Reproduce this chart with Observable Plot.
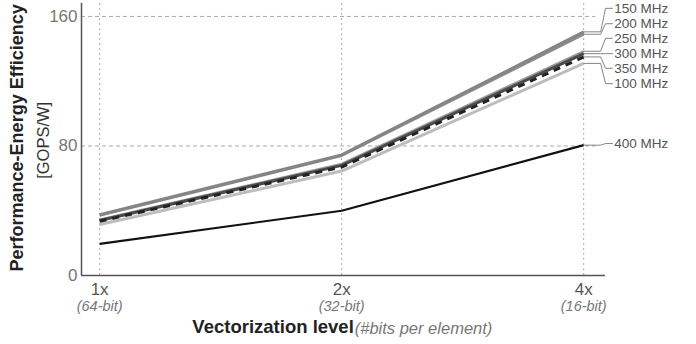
<!DOCTYPE html>
<html><head><meta charset="utf-8">
<script src="https://cdn.jsdelivr.net/npm/d3@7"></script>
<script src="https://cdn.jsdelivr.net/npm/@observablehq/plot@0.6"></script>
<style>body{margin:0;background:#fff}</style>
</head><body><div id="chart"></div>
<script>
const levels = ["1x", "2x", "4x"];
const bitLabels = ["(64-bit)", "(32-bit)", "(16-bit)"];
const yTicks = [0, 80, 160];
const freqs = ["100 MHz", "250 MHz", "200 MHz", "150 MHz", "300 MHz", "350 MHz", "400 MHz"];
const eff100 = [31.5, 64.5, 131];
const eff250 = [34.5, 69, 138.5];
const eff200 = [37, 74, 149];
const eff150 = [37.5, 74.5, 150.5];
const eff300 = [34, 68, 137];
const eff350 = [33.5, 67, 135];
const eff400 = [19.5, 40, 80.5];
const values = [eff100, eff250, eff200, eff150, eff300, eff350, eff400];
// label heights (in GOPS/W units) for the right-side legend
const labelY = [118.5, 146.5, 155.5, 165, 137, 128, 81.5];

const styles = {
  "100 MHz": {stroke: "#bdbdbd", w: 3},
  "250 MHz": {stroke: "#9a9a9a", w: 2.2},
  "200 MHz": {stroke: "#8c8c8c", w: 2.5},
  "150 MHz": {stroke: "#858585", w: 3},
  "300 MHz": {stroke: "#4a4a4a", w: 3},
  "350 MHz": {stroke: "#222", w: 3, dash: "7,6"},
  "400 MHz": {stroke: "#111", w: 2.2}
};

const rows = [];
freqs.forEach((f, k) => values[k].forEach((v, i) => rows.push({f, x: i, y: v})));

const leaders = [];
freqs.forEach((f, k) => {
  const end = values[k][2];
  [[2, end], [2.07, end], [2.09, labelY[k]], [2.119, labelY[k]]].forEach(([x, y]) => leaders.push({f, x, y}));
});
const labels = freqs.map((f, k) => ({f, y: labelY[k]}));

const font = "Liberation Sans, Arial, Helvetica, sans-serif";
const lineMarks = freqs.map(f => Plot.line(rows.filter(r => r.f === f), {
  x: "x", y: "y", stroke: styles[f].stroke, strokeWidth: styles[f].w,
  strokeDasharray: styles[f].dash, strokeLinecap: "butt"
}));

const chart = Plot.plot({
  width: 696, height: 344,
  marginLeft: 81, marginRight: 91, marginTop: 3, marginBottom: 69,
  style: {fontFamily: font, background: "#fff", overflow: "visible"},
  x: {type: "linear", domain: [-0.075, 2.09], axis: null},
  y: {domain: [0, 168], axis: null},
  marks: [
    Plot.ruleY([80, 160], {x1: -0.075, x2: 2.05, stroke: "#aaa", strokeDasharray: "4,3", strokeWidth: 1}),
    Plot.ruleX([0, 1, 2], {y1: 0, y2: 168, stroke: "#aaa", strokeDasharray: "2,3", strokeWidth: 1}),
    Plot.ruleX([-0.075], {y1: 0, y2: 168, stroke: "#555", strokeWidth: 1.5}),
    Plot.ruleY([0], {x1: -0.075, x2: 2.09, stroke: "#555", strokeWidth: 1.5}),
    ...lineMarks,
    Plot.line(leaders, {x: "x", y: "y", z: "f", stroke: "#777", strokeWidth: 0.9, clip: false}),
    Plot.text(labels, {x: 2.126, y: "y", text: "f", textAnchor: "start", lineAnchor: "middle", fontSize: 13.5, fill: "#555"}),
    Plot.text(yTicks, {x: -0.075, y: d => d, text: d => String(d), textAnchor: "end", lineAnchor: "middle", dx: -4, fontSize: 17, fill: "#777"}),
    Plot.text(levels, {x: (d, i) => i, frameAnchor: "bottom", text: d => d, textAnchor: "middle", lineAnchor: "middle", dy: 14, fontSize: 17, fill: "#555"}),
    Plot.text(bitLabels, {x: (d, i) => i, frameAnchor: "bottom", text: d => d, textAnchor: "middle", lineAnchor: "middle", dy: 30.5, fontSize: 14.5, fontStyle: "italic", fill: "#777"}),
    Plot.text(["Vectorization level"], {x: 1.05, frameAnchor: "bottom", text: d => d, dy: 52, textAnchor: "end", lineAnchor: "middle", fontSize: 18.5, fontWeight: "bold", fill: "#222"}),
    Plot.text(["(#bits per element)"], {x: 1.054, frameAnchor: "bottom", text: d => d, dy: 53, textAnchor: "start", lineAnchor: "middle", fontSize: 16.5, fontStyle: "italic", fill: "#777"}),
    Plot.text(["Performance-Energy Efficiency"], {y: 85, frameAnchor: "left", text: d => d, dx: -64, rotate: -90, textAnchor: "middle", lineAnchor: "middle", fontSize: 18, fontWeight: "bold", fill: "#222"}),
    Plot.text(["[GOPS/W]"], {y: 83.5, frameAnchor: "left", text: d => d, dx: -38, rotate: -90, textAnchor: "middle", lineAnchor: "middle", fontSize: 16.5, fill: "#333"})
  ]
});
document.getElementById("chart").appendChild(chart);
</script>
</body></html>
